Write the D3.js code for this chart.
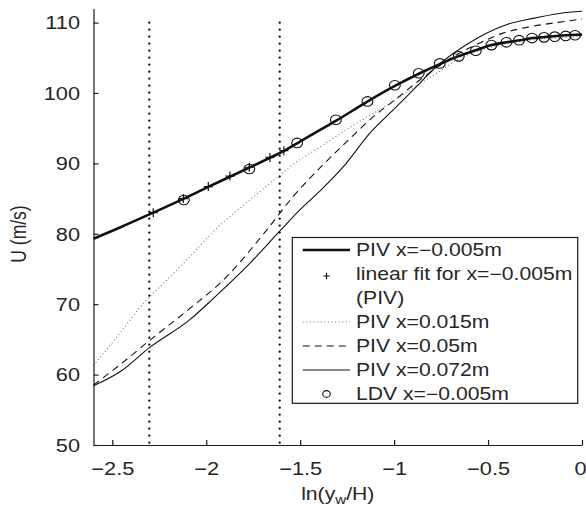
<!DOCTYPE html>
<html><head><meta charset="utf-8">
<script src="https://cdn.jsdelivr.net/npm/d3@7/dist/d3.min.js"></script>
<style>
body{margin:0;background:#fff}
svg{display:block}
text{font-family:"Liberation Sans",Arial,Helvetica,sans-serif;fill:#262626}
</style>
</head><body>
<svg id="chart" width="586" height="510"></svg>
<script>
// ---------- data ----------
const xTicks = [-2.5, -2, -1.5, -1, -0.5, 0];
const xTickLabels = ["−2.5", "−2", "−1.5", "−1", "−0.5", "0"];
const yTicks = [50, 60, 70, 80, 90, 100, 110];
const yTickLabels = ["50", "60", "70", "80", "90", "100", "110"];
const refLinesX = [-2.303, -1.609];

const pivM005X = [-2.600,-2.450,-2.303,-2.119,-1.998,-1.874,-1.771,-1.661,-1.581,-1.519,-1.410,-1.306,-1.147,-0.996,-0.863,-0.757,-0.660,-0.562,-0.482,-0.402,-0.331,-0.261,-0.198,-0.136,-0.083,0];
const pivM005Y = [79.3,81.0,82.75,85.0,86.55,88.1,89.4,90.8,91.85,92.8,94.5,96.1,98.7,101.0,102.8,104.1,105.2,106.1,106.8,107.2,107.5,107.8,107.95,108.1,108.2,108.3];

const fitX = [-2.282,-2.122,-1.989,-1.874,-1.771,-1.661,-1.587];
const fitY = [83.0,85.0,86.7,88.2,89.45,90.85,91.8];

const piv015X = [-2.600,-2.459,-2.335,-2.211,-2.087,-1.963,-1.768,-1.608,-1.555,-1.378,-1.200,-1.023,-0.899,-0.774,-0.651,-0.500,-0.300,-0.100,0];
const piv015Y = [61.3,65.9,70.1,73.4,76.75,80.3,84.8,88.35,89.5,92.6,95.7,98.5,100.7,102.8,104.9,106.4,107.4,107.9,108.0];

const piv05X = [-2.600,-2.450,-2.299,-2.087,-1.910,-1.697,-1.537,-1.360,-1.236,-1.112,-0.987,-0.863,-0.757,-0.686,-0.544,-0.420,-0.278,-0.136,0];
const piv05Y = [58.5,61.6,64.9,69.4,73.4,79.9,85.3,90.3,93.5,96.6,99.2,101.85,103.9,105.15,107.1,108.5,109.4,110.0,110.5];

const piv072X = [-2.600,-2.459,-2.299,-2.087,-1.963,-1.768,-1.608,-1.502,-1.386,-1.271,-1.129,-0.987,-0.881,-0.793,-0.686,-0.544,-0.402,-0.261,-0.119,0];
const piv072Y = [58.4,60.4,63.9,67.8,70.8,75.8,80.4,83.4,86.3,89.5,94.3,98.05,100.9,103.3,105.6,108.0,109.7,110.6,111.3,111.6];

const ldvX = [-2.119,-1.771,-1.516,-1.310,-1.142,-0.996,-0.869,-0.757,-0.656,-0.565,-0.482,-0.402,-0.335,-0.266,-0.202,-0.145,-0.087,-0.037];
const ldvY = [84.8,89.2,92.9,96.2,98.8,101.1,102.8,104.2,105.2,106.0,106.8,107.2,107.5,107.8,107.9,108.0,108.1,108.2];

const legendLabels = ["PIV x=−0.005m", "linear fit for x=−0.005m", "(PIV)", "PIV x=0.015m", "PIV x=0.05m", "PIV x=0.072m", "LDV x=−0.005m"];
const xLabelParts = ["ln(y", "w", "/H)"];
const yLabelText = "U (m/s)";

// ---------- drawing ----------
const SX = 1.21; // horizontal stretch of the glyphs in the reference
const svg = d3.select("#chart");
const x = d3.scaleLinear().domain([-2.6, 0]).range([93.5, 582]);
const y = d3.scaleLinear().domain([50, 112]).range([445, 8.5]);
const zip = (a, b) => a.map((v, i) => [v, b[i]]);
const line = d3.line().x(d => x(d[0])).y(d => y(d[1])).curve(d3.curveMonotoneX);

// vertical reference dotted lines
svg.append("g").selectAll("line").data(refLinesX).join("line")
  .attr("x1", d => x(d)).attr("x2", d => x(d))
  .attr("y1", y(110)).attr("y2", y(50))
  .attr("stroke", "#111").attr("stroke-width", 2.4)
  .attr("stroke-dasharray", "0,7").attr("stroke-linecap", "round");

// series lines
const series = [
  {d: zip(piv015X, piv015Y), w: 1.1, dash: "1,2.6", c: "#777"},
  {d: zip(piv05X, piv05Y), w: 1.1, dash: "7,5", c: "#111"},
  {d: zip(piv072X, piv072Y), w: 1.1, dash: null, c: "#111"},
  {d: zip(pivM005X, pivM005Y), w: 2.6, dash: null, c: "#111"}
];
svg.append("g").selectAll("path").data(series).join("path")
  .attr("d", s => line(s.d)).attr("fill", "none")
  .attr("stroke", s => s.c).attr("stroke-width", s => s.w)
  .attr("stroke-dasharray", s => s.dash);

// linear-fit crosses
const cross = (g, cx, cy, h) => g.append("path")
  .attr("d", `M${cx-h},${cy}H${cx+h}M${cx},${cy-h}V${cy+h}`)
  .attr("stroke", "#111").attr("stroke-width", 1.2).attr("fill", "none");
const crossG = svg.append("g");
zip(fitX, fitY).forEach(p => cross(crossG, x(p[0]), y(p[1]), 4.5));

// LDV circles
svg.append("g").selectAll("ellipse").data(zip(ldvX, ldvY)).join("ellipse")
  .attr("cx", d => x(d[0])).attr("cy", d => y(d[1]))
  .attr("rx", 5.4).attr("ry", 4.8)
  .attr("fill", "none").attr("stroke", "#111").attr("stroke-width", 1.1);

// axes
const xAxis = svg.append("g").attr("transform", `translate(0,${y(50)})`)
  .call(d3.axisBottom(x).tickValues(xTicks).tickSizeInner(-5).tickSizeOuter(0)
    .tickFormat((d, i) => xTickLabels[i]));
const yAxis = svg.append("g").attr("transform", `translate(${x(-2.6)},0)`)
  .call(d3.axisLeft(y).tickValues(yTicks).tickSizeInner(-5).tickSizeOuter(0)
    .tickFormat((d, i) => yTickLabels[i]));
[xAxis, yAxis].forEach(a => {
  a.attr("font-size", null).attr("font-family", null);
  a.selectAll(".domain, .tick line").attr("stroke", "#1a1a1a").attr("stroke-width", 1.2);
  a.selectAll("text").attr("font-size", 18).attr("fill", "#262626");
});
xAxis.selectAll("text").attr("y", 0).attr("dy", null)
  .attr("text-anchor", (d, i) => i === xTicks.length - 1 ? "end" : "middle")
  .attr("transform", (d, i) => i === xTicks.length - 1
    ? `translate(4,30) scale(${SX},1)` : `translate(0,30) scale(${SX},1)`);
yAxis.selectAll("text").attr("x", 0).attr("dy", null)
  .attr("text-anchor", "end")
  .attr("transform", `translate(-13.5,6.4) scale(${SX},1)`);

// axis titles
const xl = svg.append("text").attr("font-size", 17.5).attr("text-anchor", "middle")
  .attr("transform", `translate(${(x(-2.6)+x(0))/2},500) scale(${SX},1)`);
xl.append("tspan").text(xLabelParts[0]);
xl.append("tspan").attr("font-size", 12.5).attr("dy", 4).text(xLabelParts[1]);
xl.append("tspan").attr("dy", -4).text(xLabelParts[2]);

svg.append("text").attr("font-size", 17.5).attr("text-anchor", "middle")
  .attr("transform", `translate(26,234) scale(${SX},1) rotate(-90)`)
  .text(yLabelText);

// legend
const lg = svg.append("g");
lg.append("rect").attr("x", 292.3).attr("y", 237.5).attr("width", 285.4).attr("height", 165.8)
  .attr("fill", "#fff").attr("stroke", "#1a1a1a").attr("stroke-width", 1.2);
const rowY = i => 250 + i * 24;
const sx0 = 302.7, sx1 = 350, smid = 326.5, tx = 356;
legendLabels.forEach((t, i) => {
  lg.append("text").attr("font-size", 17.5)
    .attr("transform", `translate(${tx},${rowY(i) + 6.3}) scale(${SX},1)`).text(t);
});
const sample = (i, w, dash, c) => lg.append("line")
  .attr("x1", sx0).attr("x2", sx1).attr("y1", rowY(i)).attr("y2", rowY(i))
  .attr("stroke", c).attr("stroke-width", w).attr("stroke-dasharray", dash);
sample(0, 2.6, null, "#111");
cross(lg, smid, rowY(1) + 2, 3.2);
sample(3, 1.1, "1,2.6", "#777");
sample(4, 1.1, "7,5", "#111");
sample(5, 1.1, null, "#111");
lg.append("ellipse").attr("cx", smid).attr("cy", rowY(6)).attr("rx", 3.8).attr("ry", 3.4)
  .attr("fill", "none").attr("stroke", "#111").attr("stroke-width", 1.1);
</script>
</body></html>
